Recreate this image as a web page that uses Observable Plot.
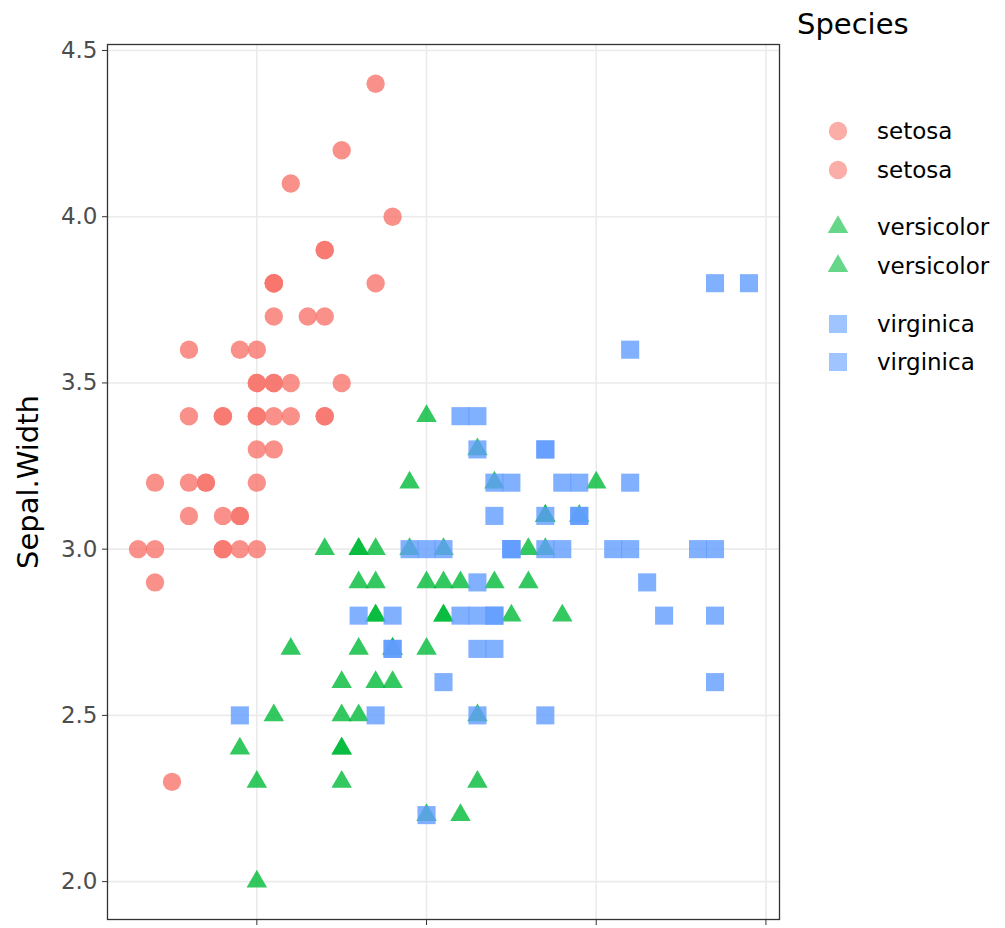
<!DOCTYPE html>
<html>
<head>
<meta charset="utf-8">
<script src="https://cdn.jsdelivr.net/npm/d3@7"></script>
<script src="https://cdn.jsdelivr.net/npm/@observablehq/plot@0.6"></script>
<style>
  html, body { margin: 0; padding: 0; background: #fff; overflow: hidden; }
  #wrap { position: relative; width: 1005px; height: 928px; font-family: "DejaVu Sans", Verdana, sans-serif; }
  #legend { position: absolute; left: 0; top: 0; }
  .lg-title { position: absolute; left: 797px; top: 7px; font-size: 29px; color: #000; white-space: nowrap; }
  .lg-item { position: absolute; left: 825px; height: 30px; display: flex; align-items: center; font-size: 23px; color: #000; white-space: nowrap; }
  .lg-item svg { width: 26px; height: 26px; margin-right: 26px; }
</style>
</head>
<body>
<div id="wrap"><div id="legend"></div></div>
<script>
// Iris sepal measurements by species
const species = ["setosa", "versicolor", "virginica"];
const speciesColors = ["#F8766D", "#00BA38", "#619CFF"];
const speciesSymbols = ["circle", "triangle", "square"];

const setosaLength = [5.1,4.9,4.7,4.6,5.0,5.4,4.6,5.0,4.4,4.9,5.4,4.8,4.8,4.3,5.8,5.7,5.4,5.1,5.7,5.1,5.4,5.1,4.6,5.1,4.8,5.0,5.0,5.2,5.2,4.7,4.8,5.4,5.2,5.5,4.9,5.0,5.5,4.9,4.4,5.1,5.0,4.5,4.4,5.0,5.1,4.8,5.1,4.6,5.3,5.0];
const setosaWidth  = [3.5,3.0,3.2,3.1,3.6,3.9,3.4,3.4,2.9,3.1,3.7,3.4,3.0,3.0,4.0,4.4,3.9,3.5,3.8,3.8,3.4,3.7,3.6,3.3,3.4,3.0,3.4,3.5,3.4,3.2,3.1,3.4,4.1,4.2,3.1,3.2,3.5,3.6,3.0,3.4,3.5,2.3,3.2,3.5,3.8,3.0,3.8,3.2,3.7,3.3];

const versicolorLength = [7.0,6.4,6.9,5.5,6.5,5.7,6.3,4.9,6.6,5.2,5.0,5.9,6.0,6.1,5.6,6.7,5.6,5.8,6.2,5.6,5.9,6.1,6.3,6.1,6.4,6.6,6.8,6.7,6.0,5.7,5.5,5.5,5.8,6.0,5.4,6.0,6.7,6.3,5.6,5.5,5.5,6.1,5.8,5.0,5.6,5.7,5.7,6.2,5.1,5.7];
const versicolorWidth  = [3.2,3.2,3.1,2.3,2.8,2.8,3.3,2.4,2.9,2.7,2.0,3.0,2.2,2.9,2.9,3.1,3.0,2.7,2.2,2.5,3.2,2.8,2.5,2.8,2.9,3.0,2.8,3.0,2.9,2.6,2.4,2.4,2.7,2.7,3.0,3.4,3.1,2.3,3.0,2.5,2.6,3.0,2.6,2.3,2.7,3.0,2.9,2.9,2.5,2.8];

const virginicaLength = [6.3,5.8,7.1,6.3,6.5,7.6,4.9,7.3,6.7,7.2,6.5,6.4,6.8,5.7,5.8,6.4,6.5,7.7,7.7,6.0,6.9,5.6,7.7,6.3,6.7,7.2,6.2,6.1,6.4,7.2,7.4,7.9,6.4,6.3,6.1,7.7,6.3,6.4,6.0,6.9,6.7,6.9,5.8,6.8,6.7,6.7,6.3,6.5,6.2,5.9];
const virginicaWidth  = [3.3,2.7,3.0,2.9,3.0,3.0,2.5,2.9,2.5,3.6,3.2,2.7,3.0,2.5,2.8,3.2,3.0,3.8,2.6,2.2,3.2,2.8,2.8,2.7,3.3,3.2,2.8,3.0,2.8,3.0,2.8,3.8,2.8,2.8,2.6,3.0,3.4,3.1,3.0,3.1,3.1,3.1,2.7,3.2,3.3,3.0,2.5,3.0,3.4,3.0];

const xTicks = [5, 6, 7, 8];
const yTicks = [2.0, 2.5, 3.0, 3.5, 4.0, 4.5];

// Long-format rows for the marks
const lengths = [setosaLength, versicolorLength, virginicaLength];
const widths = [setosaWidth, versicolorWidth, virginicaWidth];
const rows = species.flatMap((s, i) =>
  lengths[i].map((len, j) => ({species: s, length: len, width: widths[i][j]}))
);

// Marker radius per symbol so the shapes read at similar visual sizes
const symbolRadius = {circle: 9.2, triangle: 7.6, square: 10.2};

const dotLayers = species.map((s, i) =>
  Plot.dot(rows.filter(d => d.species === s), {
    x: "length",
    y: "width",
    symbol: () => speciesSymbols[i],
    r: symbolRadius[speciesSymbols[i]],
    fill: speciesColors[i],
    fillOpacity: 0.8,
    stroke: "none"
  })
);

const chart = Plot.plot({
  width: 1005,
  height: 928,
  marginLeft: 107,
  marginRight: 226,
  marginTop: 44,
  marginBottom: 9,
  style: {fontFamily: "DejaVu Sans, Verdana, sans-serif", background: "#fff", overflow: "visible"},
  x: {domain: [4.12, 8.08]},
  y: {domain: [1.886, 4.518]},
  symbol: {type: "identity"},
  marks: [
    Plot.gridX(xTicks, {stroke: "#ebebeb", strokeOpacity: 1, strokeWidth: 1.6}),
    Plot.gridY(yTicks, {stroke: "#ebebeb", strokeOpacity: 1, strokeWidth: 1.6}),
    ...dotLayers,
    Plot.frame({stroke: "#333", strokeWidth: 1.3}),
    Plot.axisY(yTicks, {
      tickSize: 5,
      tickPadding: 5,
      tickFormat: d3.format(".1f"),
      fontSize: 23,
      color: "#4d4d4d",
      stroke: "#333",
      label: "Sepal.Width",
      labelArrow: "none",
      labelAnchor: "center",
      labelOffset: 90
    }),
    Plot.axisX(xTicks, {tickSize: 6, tickFormat: () => "", stroke: "#333", label: null})
  ]
});

// Style the y-axis title separately from the tick labels
chart.querySelectorAll("[aria-label='y-axis label'] text, [aria-label='y-axis label']").forEach(el => {
  el.setAttribute("font-size", 29);
  el.setAttribute("fill", "#000");
  el.style.fontSize = "29px";
});

const wrap = document.getElementById("wrap");
wrap.insertBefore(chart, wrap.firstChild);

// Legend: each species listed twice, as in the interactive version
const legend = document.getElementById("legend");
const title = document.createElement("div");
title.className = "lg-title";
title.textContent = "Species";
legend.appendChild(title);

const itemTops = [116, 155, 212, 251, 309, 347];
const symbolPaths = {
  circle: d3.symbol(d3.symbolCircle, Math.PI * 9.2 * 9.2)(),
  triangle: d3.symbol(d3.symbolTriangle, Math.PI * 7.6 * 7.6)(),
  square: d3.symbol(d3.symbolSquare, Math.PI * 10.2 * 10.2)()
};
species.forEach((s, i) => {
  for (let k = 0; k < 2; k++) {
    const item = document.createElement("div");
    item.className = "lg-item";
    item.style.top = itemTops[i * 2 + k] + "px";
    item.innerHTML =
      `<svg viewBox="-13 -13 26 26"><path d="${symbolPaths[speciesSymbols[i]]}" fill="${speciesColors[i]}" fill-opacity="0.6"></path></svg>` +
      `<span>${s}</span>`;
    legend.appendChild(item);
  }
});
</script>
</body>
</html>
